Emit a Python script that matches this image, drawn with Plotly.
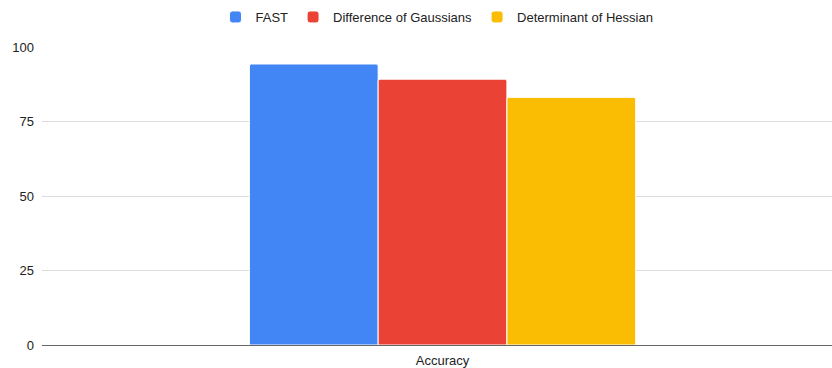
import plotly.graph_objects as go

categories = ["Accuracy"]
series_names = ["FAST", "Difference of Gaussians", "Determinant of Hessian"]
series_values = [[94.3], [89.2], [83.1]]
series_colors = ["#4285F4", "#EA4335", "#FBBC04"]
y_ticks = [0, 25, 50, 75, 100]

FONT = "Liberation Sans, Arial, Helvetica, sans-serif"

fig = go.Figure()
for name, vals, color in zip(series_names, series_values, series_colors):
    fig.add_trace(go.Bar(
        x=categories, y=vals, name=name,
        marker=dict(color=color, line=dict(color="white", width=1)),
    ))

fig.update_layout(
    width=832, height=368,
    margin=dict(l=42, r=0, t=47, b=23),
    paper_bgcolor="white", plot_bgcolor="white",
    font=dict(family=FONT, size=13, color="#222222"),
    barmode="group", bargap=0.511, bargroupgap=0.0,
    barcornerradius=2,
    legend=dict(
        orientation="h", x=0.5, xanchor="center",
        y=1 - 17 / 368, yanchor="middle", yref="container",
        font=dict(family=FONT, size=13, color="#222222"),
        itemwidth=30, traceorder="normal",
    ),
    xaxis=dict(
        range=[-0.507, 0.493], showgrid=False, showline=False, ticks="",
        tickfont=dict(size=13), ticklabelstandoff=6, automargin=False,
    ),
    yaxis=dict(
        range=[0, 100], tickvals=y_ticks, ticktext=[str(t) for t in y_ticks],
        showgrid=True, gridcolor="#dcdcdc", gridwidth=1,
        zeroline=True, zerolinecolor="#666666", zerolinewidth=1,
        showline=False, ticks="", ticklabelstandoff=7, automargin=False,
        tickfont=dict(size=13),
    ),
)

fig.write_html("out.html")
